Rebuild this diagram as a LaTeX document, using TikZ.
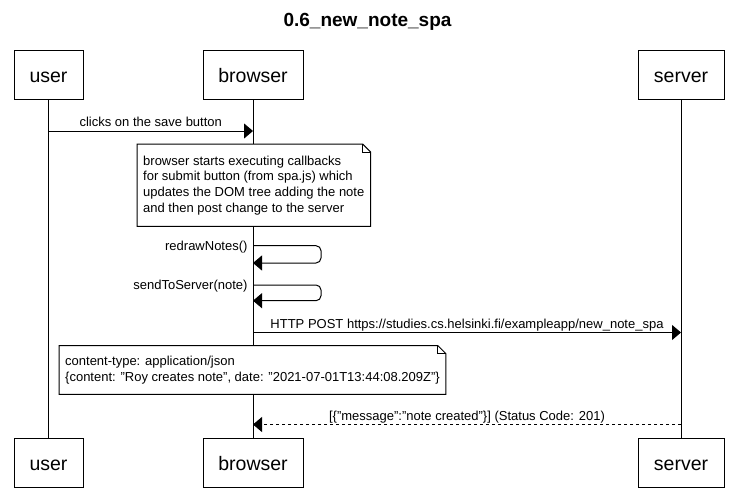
\documentclass[tikz,border=0pt]{standalone}
\usepackage{fontspec}
\setmainfont{Liberation Sans}
\usetikzlibrary{arrows.meta}

\tikzset{
    actor/.style={draw, line width=1pt, minimum height=49, inner sep=0pt, text height=15, text depth=0, font=\fontsize{19.5}{20}\selectfont},
    msg/.style={line width=1pt, -{Triangle[length=9pt,width=15pt]}},
    reponse/.style={msg, dash pattern=on 3pt off 3pt},
    lbl/.style={anchor=base, yshift=4.5pt, inner sep=0pt, font=\fontsize{13}{15}\selectfont},
    selflbl/.style={anchor=base east, xshift=-5pt, yshift=-4.5pt, inner sep=0pt, font=\fontsize{13}{15}\selectfont},
    note/.style={anchor=north west, fill=white, align=left, inner xsep=6pt, inner ysep=0pt, font=\fontsize{13}{15.7}\selectfont},
}

\begin{document}
\begin{tikzpicture}[x=1pt, y=-1pt]
    \useasboundingbox (0,0) rectangle (735,500);

    % Titre
    \node[anchor=base, inner sep=0pt, font=\bfseries\fontsize{19}{20}\selectfont] (titre) at (367.5,26.5) {0.6\_new\_note\_spa};

    % Acteurs et lignes de vie
    \foreach \nom/\x/\w in {user/48.5/69, browser/253/100, server/681/86} {
        \node[actor, minimum width=\w] (\nom Top) at (\x,75.5) {\nom};
        \node[actor, minimum width=\w] (\nom Bot) at (\x,462.5) {\nom};
        \draw[line width=1pt] (\nom Top) -- (\nom Bot);
    }

    % Clic de l'utilisateur
    \draw[msg] (userTop |- 0,131) -- node[lbl] {clicks on the save button} (browserTop |- 0,131);

    % Note du navigateur
    \node[note, minimum width=232, minimum height=82] (noteA) at (137,144) {browser starts executing callbacks\\for submit button (from spa.js) which\\updates the DOM tree adding the note\\and then post change to the server};

    % Appels internes
    \draw[msg, rounded corners=5pt] (browserTop |- 0,245.7) node[selflbl] {redrawNotes()} -- (321,245.7) -- (321,263) -- (browserTop |- 0,263);
    \draw[msg, rounded corners=5pt] (browserTop |- 0,285) node[selflbl] {sendToServer(note)} -- (321,285) -- (321,300.7) -- (browserTop |- 0,300.7);

    % Requete POST
    \draw[msg] (browserTop |- 0,332.5) -- node[lbl] {HTTP POST https://studies.cs.helsinki.fi/exampleapp/new\_note\_spa} (serverTop |- 0,332.5);

    % Note du contenu envoye
    \node[note, minimum width=386, minimum height=48.3] (noteB) at (59,345.7) {content-type: application/json\\\{content: "Roy creates note", date: "2021-07-01T13:44:08.209Z"\}};

    % Contour des notes (coin plie)
    \foreach \n in {noteA,noteB} {
        \draw[line width=1pt] (\n.north west) -- ([xshift=-8pt]\n.north east) -- ([yshift=-8pt]\n.north east) -- (\n.south east) -- (\n.south west) -- cycle;
        \draw[line width=1pt] ([xshift=-8pt]\n.north east) |- ([yshift=-8pt]\n.north east);
    }

    % Reponse du serveur
    \draw[reponse] (serverTop |- 0,424.5) -- node[lbl] {[\{"message":"note created"\}] (Status Code: 201)} (browserTop |- 0,424.5);
\end{tikzpicture}
\end{document}
